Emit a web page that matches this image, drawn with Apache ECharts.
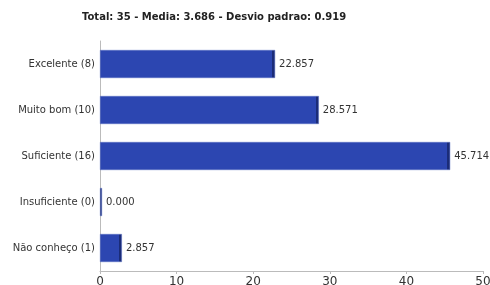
<!DOCTYPE html>
<html>
<head>
<meta charset="utf-8">
<script src="https://cdn.jsdelivr.net/npm/echarts@6/dist/echarts.min.js"></script>
<style>
  html, body { margin: 0; padding: 0; background: #fff; }
  #chart { width: 490px; height: 285px; }
</style>
</head>
<body>
<div id="chart"></div>
<script>
'use strict';

// categorias e valores (percentual)
var categories = ['Excelente (8)', 'Muito bom (10)', 'Suficiente (16)', 'Insuficiente (0)', 'Não conheço (1)'];
var percents = [22.857, 28.571, 45.714, 0.000, 2.857];
var xTicks = [0, 10, 20, 30, 40, 50];
var titleText = 'Total: 35 - Media: 3.686 - Desvio padrao: 0.919';

var pxPerUnit = 383 / 50; // largura da grade / max
var barColor = '#2c46b1';
var edgeColor = '#1b2c78';

// cor do bar com borda escura na ponta (efeito 3d)
function barFill(params) {
    var w = params.value * pxPerUnit;
    if (w < 4) {
        return w < 1 ? edgeColor : new echarts.graphic.LinearGradient(0, 0, 1, 0, [
            { offset: 0, color: barColor }, { offset: 0.7, color: barColor },
            { offset: 0.7, color: edgeColor }, { offset: 1, color: edgeColor }
        ]);
    }
    var s = 1 - 3 / w;
    return new echarts.graphic.LinearGradient(0, 0, 1, 0, [
        { offset: 0, color: barColor }, { offset: s, color: barColor },
        { offset: s, color: edgeColor }, { offset: 1, color: edgeColor }
    ]);
}

var chart = echarts.init(document.getElementById('chart'));

chart.setOption({
    animation: false,
    textStyle: { fontFamily: 'DejaVu Sans' },
    title: {
        text: titleText,
        left: 82,
        top: 12,
        padding: 0,
        textStyle: { fontSize: 10, fontWeight: 'bold', color: '#222', fontFamily: 'DejaVu Sans' }
    },
    grid: { left: 100, right: 7, top: 41, bottom: 14, outerBoundsMode: 'none', containLabel: false },
    xAxis: {
        type: 'value',
        min: xTicks[0],
        max: xTicks[xTicks.length - 1],
        interval: 10,
        splitLine: { show: false },
        axisLine: { show: true, lineStyle: { color: '#bbb' } },
        axisTick: { show: true, length: 3, lineStyle: { color: '#bbb' } },
        axisLabel: { fontSize: 12, color: '#333', margin: 5 }
    },
    yAxis: {
        type: 'category',
        inverse: true,
        data: categories,
        axisLine: { lineStyle: { color: '#bbb' } },
        axisTick: { length: 3, lineStyle: { color: '#bbb' } },
        axisLabel: { fontSize: 10, color: '#333', margin: 5 }
    },
    series: [{
        type: 'bar',
        data: percents,
        barWidth: 28,
        barMinHeight: 2,
        itemStyle: { color: barFill, borderColor: '#5d72c4', borderWidth: 0.5 },
        label: {
            show: true,
            position: 'right',
            distance: 4,
            fontSize: 10,
            color: '#333',
            formatter: function (p) { return p.value.toFixed(3); }
        }
    }]
});
</script>
</body>
</html>
